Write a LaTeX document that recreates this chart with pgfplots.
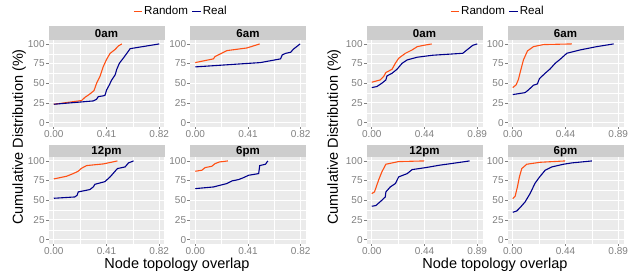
\documentclass[border=0pt]{standalone}
\usepackage{fontspec}
\setmainfont{Liberation Sans}
\usepackage{pgfplots}
\pgfplotsset{compat=1.18}
\definecolor{ggbg}{HTML}{EBEBEB}
\definecolor{ggstrip}{HTML}{CDCDCD}
\definecolor{ticktext}{HTML}{808080}
\definecolor{crand}{RGB}{255,80,20}
\definecolor{creal}{RGB}{0,0,139}
\pgfplotsset{
 ggpanel/.style={
  scale only axis, width=116pt, height=86.5pt, anchor=north west,
  ymin=-5, ymax=105, ytick={0,25,50,75,100}, minor ytick={12.5,37.5,62.5,87.5},
  axis background/.style={fill=ggbg},
  axis line style={draw=none},
  grid=both,
  major grid style={draw=white, line width=0.9pt},
  minor grid style={draw=white, line width=0.45pt},
  tick align=outside, tick pos=left, major tick length=2.7pt, minor tick length=0pt,
  tick style={draw=ticktext, line width=0.6pt},
  ticklabel style={font=\fontsize{10}{12}\selectfont, text=ticktext},
  yticklabel style={inner xsep=1pt},
  xticklabel style={inner ysep=1.5pt},
  /pgf/number format/assume math mode=true,
  every axis plot/.append style={line width=1.1pt, mark=none},
 },
 leftx/.style={xmin=-0.041, xmax=0.861, xtick={0,0.41,0.82}, xticklabels={0.00,0.41,0.82}, minor xtick={0.205,0.615}},
 rightx/.style={xmin=-0.0445, xmax=0.9345, xtick={0,0.445,0.89}, xticklabels={0.00,0.44,0.89}, minor xtick={0.2225,0.6675}},
 gglegend/.style={legend style={at={(axis description cs:#1,1.329)}, anchor=center, draw=none, fill=none,
   legend columns=2, 
   /tikz/every even column/.append style={column sep=2.5pt},
   nodes={inner xsep=1.2pt, inner ysep=0pt, font=\fontsize{11.6}{13}\selectfont, text=black}}},
 keyrand/.style={legend image code/.code={\draw[crand, line width=1.4pt] (0pt,0pt) -- (8.5pt,0pt);}},
 keyreal/.style={legend image code/.code={\draw[creal, line width=1.4pt] (0pt,0pt) -- (8.5pt,0pt);}},
}
\begin{document}
\begin{tikzpicture}
\useasboundingbox (0,0) rectangle (629pt,-271pt);
% strips
\foreach \x/\t in {48.5/0am,190/6am,366.5/0am,507.5/6am}{
  \fill[ggstrip] (\x pt,-26pt) rectangle ({\x pt+116pt},-40pt);
  \node[anchor=base, font=\fontsize{11.5}{13}\selectfont\bfseries, inner sep=0pt] at ({\x pt+58pt},-37.6pt) {\t};
}
\foreach \x/\t in {48.5/12pm,190/6pm,366.5/12pm,507.5/6pm}{
  \fill[ggstrip] (\x pt,-145pt) rectangle ({\x pt+116pt},-157pt);
  \node[anchor=base, font=\fontsize{11.5}{13}\selectfont\bfseries, inner sep=0pt] at ({\x pt+58pt},-154pt) {\t};
}
% ---------------- left group ----------------
\begin{axis}[ggpanel, leftx, at={(48.5pt,-40pt)}, gglegend=1.138]
\addlegendimage{keyrand}
\addlegendentry{Random}
\addlegendimage{keyreal}
\addlegendentry{Real}
\addplot[crand, forget plot] coordinates {(0,23.3) (0.216,28) (0.242,32) (0.281,36.4) (0.313,40.7) (0.333,50) (0.359,58.5) (0.385,71.2) (0.411,80.5) (0.438,88) (0.477,93) (0.503,97.5) (0.529,100)};
\addplot[creal, forget plot] coordinates {(0,23.3) (0.307,27.5) (0.333,29.7) (0.346,33) (0.385,34) (0.398,34.7) (0.411,41.5) (0.432,47.9) (0.45,54) (0.477,60.6) (0.49,67.8) (0.51,75.4) (0.54,81.8) (0.568,88) (0.594,94) (0.82,100)};
\end{axis}
\begin{axis}[ggpanel, leftx, at={(190pt,-40pt)}]
\addplot[crand] coordinates {(0,76.3) (0.141,81) (0.154,84) (0.245,91.5) (0.402,94.9) (0.501,100)};
\addplot[creal] coordinates {(0,70.8) (0.507,76.3) (0.663,81) (0.676,86) (0.702,88) (0.742,89.4) (0.762,93.2) (0.815,100)};
\end{axis}
\begin{axis}[ggpanel, leftx, at={(48.5pt,-157pt)}]
\addplot[crand] coordinates {(0,77.1) (0.099,80.5) (0.151,83.9) (0.19,86.9) (0.216,90.7) (0.255,94.1) (0.385,96.2) (0.495,100)};
\addplot[creal] coordinates {(0,52.5) (0.164,54.2) (0.182,56.4) (0.19,60.6) (0.281,63.6) (0.307,66.9) (0.32,70.3) (0.398,73.7) (0.438,79.7) (0.495,90.3) (0.555,92.4) (0.581,97.5) (0.62,100)};
\end{axis}
\begin{axis}[ggpanel, leftx, at={(190pt,-157pt)}]
\addplot[crand] coordinates {(0,86.9) (0.05,88.1) (0.076,91.5) (0.128,93.2) (0.154,96.6) (0.188,98.7) (0.253,100)};
\addplot[creal] coordinates {(0,64.8) (0.141,66.9) (0.245,71.2) (0.285,74.6) (0.337,76.3) (0.376,78.8) (0.415,81.8) (0.493,83.9) (0.501,94.1) (0.546,95.8) (0.564,100)};
\end{axis}
% ---------------- right group ----------------
\begin{axis}[ggpanel, rightx, at={(366.5pt,-40pt)}, gglegend=1.129]
\addlegendimage{keyrand}
\addlegendentry{Random}
\addlegendimage{keyreal}
\addlegendentry{Real}
\addplot[crand, forget plot] coordinates {(0,51.3) (0.071,54.2) (0.1,58.5) (0.119,63.6) (0.171,67.8) (0.199,75.4) (0.227,81.8) (0.284,88.1) (0.341,92.4) (0.384,96.6) (0.441,98.3) (0.506,100)};
\addplot[creal, forget plot] coordinates {(0,44.5) (0.043,45.8) (0.085,50) (0.119,54.2) (0.128,59.3) (0.171,62.7) (0.213,67.8) (0.256,75.4) (0.299,79.7) (0.384,83.1) (0.512,85.6) (0.768,88.1) (0.81,93.2) (0.853,98.3) (0.89,100)};
\end{axis}
\begin{axis}[ggpanel, rightx, at={(507.5pt,-40pt)}]
\addplot[crand] coordinates {(0,44.5) (0.028,47.9) (0.048,55) (0.068,67) (0.09,79.7) (0.124,91.1) (0.175,96.6) (0.259,99.2) (0.499,100)};
\addplot[creal] coordinates {(0,35.6) (0.104,38.1) (0.132,41.5) (0.175,47.5) (0.208,49.2) (0.225,55.9) (0.273,62.7) (0.315,68.2) (0.358,75.4) (0.4,80.5) (0.456,88.1) (0.569,92.4) (0.71,96.6) (0.851,100)};
\end{axis}
\begin{axis}[ggpanel, rightx, at={(366.5pt,-157pt)}]
\addplot[crand] coordinates {(0,58.5) (0.023,60.6) (0.057,75.4) (0.085,86) (0.119,95.8) (0.227,99.2) (0.441,100)};
\addplot[creal] coordinates {(0,42.4) (0.034,43.2) (0.085,50) (0.114,54.2) (0.119,60.6) (0.156,66.9) (0.199,71.2) (0.227,79.7) (0.299,83.9) (0.341,89) (0.455,91.5) (0.569,94.5) (0.711,97.5) (0.825,100)};
\end{axis}
\begin{axis}[ggpanel, rightx, at={(507.5pt,-157pt)}]
\addplot[crand] coordinates {(0,52.1) (0.02,55.1) (0.039,66.9) (0.056,79.7) (0.076,90.3) (0.118,95.8) (0.231,98.3) (0.442,100)};
\addplot[creal] coordinates {(0,34.7) (0.034,36.4) (0.062,40.7) (0.104,47.9) (0.146,58.5) (0.189,72) (0.231,80.5) (0.273,88.1) (0.33,92.4) (0.428,95.8) (0.499,97.5) (0.668,100)};
\end{axis}
% axis titles
\node[rotate=90, anchor=center, inner sep=0pt, font=\fontsize{14.5}{16}\selectfont] at (19pt,-137pt) {Cumulative Distribution (\%)};
\node[rotate=90, anchor=center, inner sep=0pt, font=\fontsize{14.5}{16}\selectfont] at (334pt,-137pt) {Cumulative Distribution (\%)};
\node[anchor=base, inner sep=0pt, font=\fontsize{14.5}{16}\selectfont] at (177pt,-268pt) {Node topology overlap};
\node[anchor=base, inner sep=0pt, font=\fontsize{14.5}{16}\selectfont] at (495pt,-268pt) {Node topology overlap};
\end{tikzpicture}
\end{document}
